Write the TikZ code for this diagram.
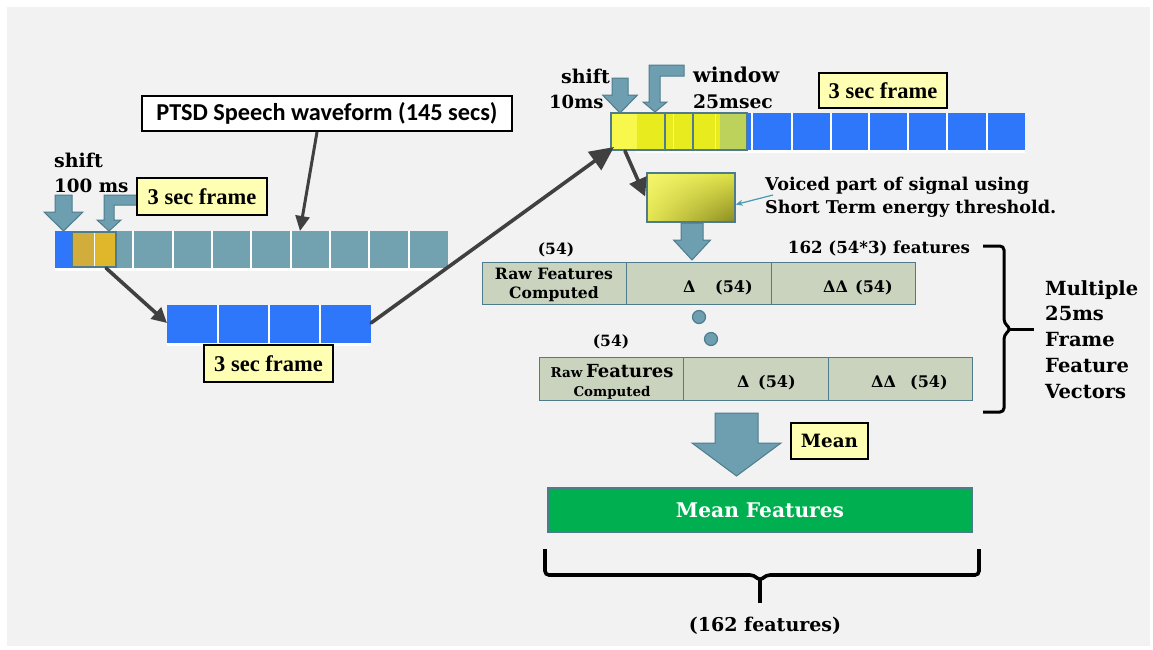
\documentclass[tikz,border=0pt]{standalone}
\usepackage{fontspec}
\setmainfont{DejaVu Serif}
\newfontfamily\calibfont{Carlito}
\newfontfamily\labelfont{Liberation Serif}
\usetikzlibrary{arrows.meta,calc,shadings}

\definecolor{bgpanel}{HTML}{F2F2F2}
\definecolor{tealfill}{HTML}{6E9FB0}
\definecolor{tealedge}{HTML}{4F7C8C}
\definecolor{cellteal}{HTML}{72A1B0}
\definecolor{cellblue}{HTML}{2E77FA}
\definecolor{goldA}{HTML}{D1AE3C}
\definecolor{goldB}{HTML}{E0B72A}
\definecolor{yelA}{HTML}{F8F84C}
\definecolor{yelB}{HTML}{E8EC1E}
\definecolor{yelC}{HTML}{BCD25A}
\definecolor{lblyellow}{HTML}{FFFFB3}
\definecolor{rowfill}{HTML}{C9D3BE}
\definecolor{arrgray}{HTML}{404040}
\definecolor{thinteal}{HTML}{4A9AB2}
\definecolor{meangreen}{HTML}{00B050}
\definecolor{vUL}{HTML}{F6F66E}
\definecolor{vUR}{HTML}{DEE246}
\definecolor{vLL}{HTML}{E4E650}
\definecolor{vLR}{HTML}{8A8A22}

% block arrow pointing down: centre x, shaft top, shaft half width, head half width, head top, tip
\newcommand\blkdown[6]{%
  \filldraw[blk] (#1-#3,#2) -- (#1+#3,#2) -- (#1+#3,#5) -- (#1+#4,#5)
    -- (#1,#6) -- (#1-#4,#5) -- (#1-#3,#5) -- cycle;}
\newcommand\fs[1]{\fontsize{#1}{#1}\selectfont}

\begin{document}
\begin{tikzpicture}[x=1pt,y=-1pt,
  blk/.style={fill=tealfill,draw=tealedge,line width=1pt},
  lbl/.style={draw=black,line width=2.2pt,fill=lblyellow,inner sep=0pt,
    font=\labelfont\bfseries\fs{22.5}},
  conn/.style={draw=arrgray,line width=3.6pt,line cap=round,
    -{Triangle[length=17pt,width=17pt]}},
  cellrow/.style={draw=tealedge,fill=rowfill,line width=1.3pt,inner sep=0pt,
    anchor=north west,minimum height=42pt,minimum width=144pt},
  txt/.style={inner sep=0pt,font=\bfseries\fs{19}},
  btxt/.style={inner sep=0pt,anchor=base west,font=\bfseries\fs{16}},
  sep/.style={white,line width=1.3pt},
  bracepath/.style={draw=black,line width=3pt,rounded corners=4pt}]

% canvas
\fill[white] (0,0) rectangle (1153,649);
\fill[bgpanel] (7,7) rectangle (1150,646);
\useasboundingbox (0,0) rectangle (1153,649);

% ---------------- long waveform strip (left) ----------------
\fill[white] (55,268) rectangle (448,271);
\fill[cellteal] (55,231) rectangle (448,268);
\fill[cellblue] (55,231) rectangle (72,268);
\foreach \x in {133,173,212,251,291,330,369,409}
  \draw[sep] (\x,231) -- (\x,268);
\fill[goldA] (72,232) rectangle (94,267);
\fill[goldB] (94,232) rectangle (116,267);
\draw[white,line width=0.8pt] (94,232) -- (94,267);
\draw[tealedge,line width=1.6pt] (72,232) rectangle (116,267);
\coordinate (goldout) at (106,268);
\coordinate (ptsdin) at (300,231);

% shift arrow and bent frame arrow
\blkdown{63.5}{195}{8.5}{19.5}{212}{231}
\filldraw[blk] (137,195) -- (104,195) -- (104,220) -- (97,220) -- (109,231)
  -- (121,220) -- (114,220) -- (114,205) -- (137,205) -- cycle;

\node[txt,anchor=base west] (shiftA) at (54,167) {shift};
\node[txt,anchor=base west,font=\bfseries\fs{18.3}] (msA) at (54,192) {100 ms};
\node[lbl,minimum width=130pt,minimum height=37pt] (frameA) at (202,196.5) {3 sec frame};

% speech waveform label
\node[draw=black,line width=2pt,fill=white,inner sep=0pt,minimum width=370pt,
  minimum height=35pt,font=\calibfont\bfseries\fs{24.3}]
  (ptsd) at (327,113.5) {PTSD Speech waveform (145 secs)};
\draw[draw=arrgray,line width=3pt,-{Triangle[length=15pt,width=14pt]}]
  ($(ptsd.south)+(-10,0)$) -- (ptsdin);

% ---------------- extracted 3 sec frame ----------------
\fill[white] (167,343) rectangle (371,346);
\fill[cellblue] (167,305) rectangle (371,343);
\foreach \x in {218,269,320} \draw[sep] (\x,305) -- (\x,343);
\coordinate (smallL) at (167,323);
\coordinate (smallR) at (371,323);
\node[lbl,minimum width=129pt,minimum height=37pt] (frameB) at (268.5,363.5) {3 sec frame};
\draw[conn,-{Triangle[length=15pt,width=15pt]}] (goldout) -- (smallL);

% ---------------- framed 3 sec strip (top) ----------------
\fill[white] (636,150) rectangle (1025,153);
\fill[cellblue] (611,113) rectangle (1025,150);
\foreach \x in {752,792,831,869,908,947,987} \draw[sep] (\x,113) -- (\x,150);
\fill[yelA] (611,113) rectangle (637,150);
\fill[yelB] (637,113) rectangle (720,150);
\fill[yelC] (720,113) rectangle (747,150);
\draw[white,line width=0.6pt,opacity=0.6] (673,114) -- (673,149) (715,114) -- (715,149);
\draw[tealedge,line width=1.6pt] (611,113) rectangle (665,150)
  (665,113) rectangle (693,150) (693,113) rectangle (747,150);
\coordinate (topin) at (614,147);
\coordinate (topout) at (625,151);
\draw[conn,-{Triangle[length=24pt,width=22pt]}] (smallR) -- (topin);

\blkdown{620}{78}{8}{17.5}{95}{113}
\filldraw[blk] (684,65) -- (649,65) -- (649,102) -- (643,102) -- (655,112)
  -- (667,102) -- (660,102) -- (660,76) -- (684,76) -- cycle;

\node[txt,anchor=base west] (shiftB) at (561,83) {shift};
\node[txt,anchor=base west,font=\bfseries\fs{18}] (msB) at (549,108) {10ms};
\node[txt,anchor=base west,font=\bfseries\fs{20.5}] (winA) at (693,82) {window};
\node[txt,anchor=base west,font=\bfseries\fs{18.7}] (winB) at (693,108) {25msec};
\node[lbl,minimum width=128pt,minimum height=35pt] (frameC) at (883,90.5) {3 sec frame};

% voiced segment
\shade[upper left=vUL,upper right=vUR,lower left=vLL,lower right=vLR]
  (647,173) rectangle (735,222);
\node[draw=tealedge,line width=1.6pt,minimum width=88pt,minimum height=49pt,
  inner sep=0pt] (voiced) at (691,197.5) {};
\draw[conn,-{Triangle[length=18pt,width=18pt]}] (topout) -- ($(voiced.west)+(-1,-1)$);

\node[inner sep=0pt,anchor=base west,font=\bfseries\fs{17.6}] (voicedA) at (765,190)
  {Voiced part of signal using};
\node[inner sep=0pt,anchor=base west,font=\bfseries\fs{17.6}] (voicedB) at (765,213)
  {Short Term energy threshold.};
\draw[thinteal,line width=1.2pt,-{Stealth[length=7pt,width=6pt]}]
  (773,195) -- ($(voiced.east)+(0,7)$);

% ---------------- per-frame feature vectors ----------------
\blkdown{692}{223}{11}{18.5}{240}{260}

\node[cellrow] (r1a) at (482,262) {};
\node[cellrow,minimum width=145pt] (r1b) at (626,262) {};
\node[cellrow] (r1c) at (771,262) {};
\node[inner sep=0pt,anchor=base,font=\bfseries\fs{15.6}] at (554,279) {Raw Features};
\node[inner sep=0pt,anchor=base,font=\bfseries\fs{15.6}] at (554,298) {Computed};
\node[btxt] at (683,292) {Δ};
\node[btxt] at (715,292) {(54)};
\node[btxt] at (823,292) {ΔΔ};
\node[btxt] at (855,292) {(54)};
\node[txt,font=\bfseries\fs{15.5}] (n54a) at (556,250) {(54)};
\node[txt,font=\bfseries\fs{16.6}] (n162) at (879,248) {162 (54*3) features};

\filldraw[blk,line width=1.2pt] (699,317) circle (6.5pt);
\filldraw[blk,line width=1.2pt] (711,339) circle (6.5pt);

\node[txt,font=\bfseries\fs{15.5}] (n54b) at (611,342) {(54)};
\node[cellrow,minimum height=43pt] (r2a) at (539,357) {};
\node[cellrow,minimum height=43pt,minimum width=145pt] (r2b) at (683,357) {};
\node[cellrow,minimum height=43pt] (r2c) at (828,357) {};
\node[inner sep=0pt,anchor=base,font=\bfseries] at (612,377)
  {{\fs{13.5}Raw} {\fs{18}Features}};
\node[inner sep=0pt,anchor=base,font=\bfseries\fs{13.4}] at (612,396) {Computed};
\node[btxt] at (737,387) {Δ};
\node[btxt] at (758,387) {(54)};
\node[btxt] at (871,387) {ΔΔ};
\node[btxt] at (910,387) {(54)};

% brace grouping the frame vectors
\draw[bracepath] (983,246) -- (1004,246) -- (1004,323) -- (1011,329)
  -- (1004,335) -- (1004,412) -- (983,412);
\draw[black,line width=3pt] (1008,329) -- (1034,329);
\node[anchor=north west,inner sep=0pt,align=left,
  font=\bfseries\fontsize{19.5}{25.8}\selectfont] (mvec) at (1045,280)
  {Multiple\\25ms\\Frame\\Feature\\Vectors};

% ---------------- averaging ----------------
\blkdown{736.5}{413}{21.5}{44.5}{443}{476}
\node[lbl,font=\bfseries\fs{18.3},minimum width=77pt,
  minimum height=36pt] (meanlbl) at (829.5,441) {Mean};

\node[draw=tealedge,fill=meangreen,line width=1.3pt,minimum width=424pt,
  minimum height=44pt,inner sep=0pt,text=white,
  font=\bfseries\fs{20.2}] (meanfeat) at (760,510) {Mean Features};

\draw[bracepath,line width=3.6pt] (545,549) -- (545,575) -- (754,575) -- (760,581)
  -- (766,575) -- (979,575) -- (979,549);
\draw[black,line width=3.6pt] (760,578) -- (760,603);
\node[txt] (n162b) at (765,626) {(162 features)};

\end{tikzpicture}
\end{document}
